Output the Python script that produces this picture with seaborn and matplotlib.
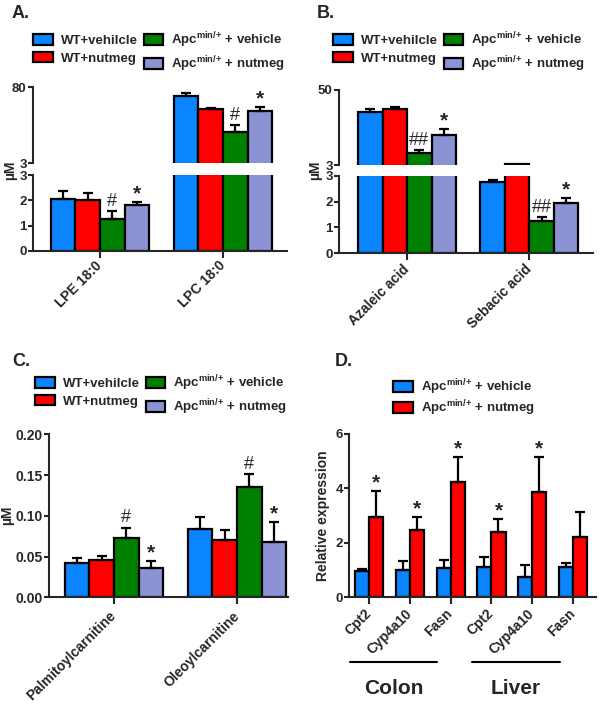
import pandas as pd
import seaborn as sns
import matplotlib.pyplot as plt
from matplotlib.patches import Patch
import matplotlib.transforms as mtransforms

sns.set_style('ticks')
plt.rcParams['font.family'] = ['Liberation Sans', 'DejaVu Sans']
plt.rcParams['font.weight'] = 'bold'
plt.rcParams['mathtext.fontset'] = 'custom'
plt.rcParams['mathtext.rm'] = 'Liberation Sans'
plt.rcParams['mathtext.bf'] = 'Liberation Sans:bold'

# ---- data ----
groups = ['WT+vehilcle', 'WT+nutmeg',
          r'Apc$^{\mathrm{min/{+}}}$ + vehicle', r'Apc$^{\mathrm{min/{+}}}$ + nutmeg']
colors = ['#0A84FF', '#FF0000', '#008000', '#8C93D4']

a_items = ['LPE 18:0', 'LPC 18:0']
a_means = [[2.04, 2.01, 1.26, 1.82], [70.9, 57.7, 34.4, 55.7]]
a_errs = [[0.33, 0.27, 0.32, 0.10], [3.4, 1.3, 7.1, 3.8]]
a_marks = [['', '', '#', '*'], ['', '', '#', '*']]

b_items = ['Azaleic acid', 'Sebacic acid']
b_means = [[36.0, 38.1, 10.7, 21.8], [2.75, 3.5, 1.25, 1.94]]
b_errs = [[1.9, 1.1, 1.5, 4.0], [0.09, 0.0, 0.14, 0.20]]
b_marks = [['', '', '##', '*'], ['', '', '##', '*']]

c_items = ['Palmitoylcarnitine', 'Oleoylcarnitine']
c_means = [[0.0425, 0.0458, 0.0732, 0.036], [0.0838, 0.0703, 0.1358, 0.0675]]
c_errs = [[0.0062, 0.0053, 0.0123, 0.0082], [0.0152, 0.0123, 0.0155, 0.0249]]
c_marks = [['', '', '#', '*'], ['', '', '#', '*']]

d_groups = [r'Apc$^{\mathrm{min/{+}}}$ + vehicle', r'Apc$^{\mathrm{min/{+}}}$ + nutmeg']
d_colors = ['#0A84FF', '#FF0000']
d_genes = ['Cpt2', 'Cyp4a10', 'Fasn', 'Cpt2', 'Cyp4a10', 'Fasn']
d_tissues = ['Colon', 'Colon', 'Colon', 'Liver', 'Liver', 'Liver']
d_vehicle = [0.98, 1.00, 1.09, 1.10, 0.76, 1.13]
d_vehicle_err = [0.07, 0.33, 0.28, 0.39, 0.43, 0.12]
d_nutmeg = [2.96, 2.47, 4.22, 2.41, 3.88, 2.20]
d_nutmeg_err = [0.94, 0.49, 0.95, 0.48, 1.29, 0.95]
d_marks = [['', '', '', '', '', ''], ['*', '*', '*', '*', '*', '']]


def make_df(items, groups, means, errs, marks):
    rows = []
    for i, item in enumerate(items):
        for j, g in enumerate(groups):
            rows.append({'item': item, 'group': g, 'mean': means[i][j],
                         'err': errs[i][j], 'mark': marks[i][j]})
    return pd.DataFrame(rows)


def draw_bars(ax, df, items, hue_order, palette, width, ylim):
    sns.barplot(data=df, x='item', y='mean', hue='group', order=items, hue_order=hue_order,
                palette=palette, width=width, edgecolor='black', linewidth=1.6,
                errorbar=None, legend=False, saturation=1, ax=ax)
    for cont, g in zip(ax.containers, hue_order):
        sub = df[df['group'] == g].set_index('item').loc[items]
        for bar, (_, row) in zip(cont, sub.iterrows()):
            top = row['mean'] + row['err']
            if bar.get_height() < ylim[0]:
                # bar lies entirely below this (upper) segment of a broken axis
                bar.set_visible(False)
                continue
            x = bar.get_x() + bar.get_width() / 2
            if row['err'] > 0:
                ax.errorbar(x, row['mean'], yerr=[[0], [row['err']]], fmt='none',
                            ecolor='black', elinewidth=1.6, capsize=3.5, capthick=1.6, zorder=1)
            if row['mark'] and ylim[0] <= top <= ylim[1]:
                if row['mark'] == '*':
                    ax.annotate('*', (x, top), xytext=(0, -1), textcoords='offset points',
                                ha='center', va='bottom', fontsize=15, fontweight='bold')
                else:
                    ax.annotate(row['mark'], (x, top), xytext=(0, 1), textcoords='offset points',
                                ha='center', va='bottom', fontsize=13, fontweight='normal')
    ax.set_ylim(*ylim)
    ax.set_xlabel('')
    ax.set_ylabel('')
    for s in ['top', 'right']:
        ax.spines[s].set_visible(False)
    for s in ['left', 'bottom']:
        ax.spines[s].set_linewidth(1.5)
    ax.tick_params(axis='y', length=3.5, width=1.5, labelsize=9.5, pad=1)
    ax.tick_params(axis='x', length=5, width=1.5, labelsize=10)


def style_xlabels(ax, labels, pad):
    ax.set_xticks(range(len(labels)))
    ax.set_xticklabels(labels, rotation=45, ha='right', va='center',
                       rotation_mode='anchor', fontweight='bold')
    ax.tick_params(axis='x', pad=pad)


def add_legend(ax, hue_order, palette, anchor, ncol, spacing=0.35):
    handles = [Patch(facecolor=c, edgecolor='black', linewidth=1.6) for c in palette]
    ax.legend(handles, hue_order, ncol=ncol, loc='upper left', bbox_to_anchor=anchor,
              bbox_transform=fig.transFigure, frameon=False, borderpad=0, borderaxespad=0,
              handlelength=1.5, handleheight=0.9, handletextpad=0.6, columnspacing=0.45,
              labelspacing=spacing, prop={'size': 9.5, 'weight': 'bold'})


W, H = 600, 704
fig = plt.figure(figsize=(6, 7.04), dpi=100)


def px_axes(x0, y0, x1, y1):
    return fig.add_axes([x0 / W, 1 - y1 / H, (x1 - x0) / W, (y1 - y0) / H])


def broken_panel(items, means, errs, marks, top_lim, top_ticks, box_top, box_bot, xlim, pad):
    df = make_df(items, groups, means, errs, marks)
    ax_t = px_axes(*box_top)
    ax_b = px_axes(*box_bot)
    draw_bars(ax_t, df, items, groups, colors, 0.8, top_lim)
    draw_bars(ax_b, df, items, groups, colors, 0.8, (0, 3))
    ax_t.spines['bottom'].set_visible(False)
    ax_t.set_xticks([])
    ax_t.set_yticks(top_ticks)
    ax_b.set_yticks([0, 1, 2, 3])
    for a in (ax_t, ax_b):
        a.set_xlim(*xlim)
    style_xlabels(ax_b, items, pad)
    return ax_t, ax_b


# ---- panel A ----
axA_t, axA_b = broken_panel(a_items, a_means, a_errs, a_marks, (3, 80), [3, 80],
                            (33, 87, 287, 163), (33, 175, 287, 251), (-0.545, 1.52), 4)
add_legend(axA_t, groups, colors, (33 / W, 1 - 30 / H), 2)
fig.text(12 / W, 1 - 14 / H, 'A.', fontsize=13, fontweight='bold', va='center')
fig.text(10 / W, 1 - 170 / H, 'µM', rotation=90, ha='center', va='center',
         fontsize=10, fontweight='bold')

# ---- panel B ----
axB_t, axB_b = broken_panel(b_items, b_means, b_errs, b_marks, (3, 50), [3, 50],
                            (339, 90, 593, 165), (339, 176, 593, 253), (-0.557, 1.52), 5)
add_legend(axB_t, groups, colors, (333 / W, 1 - 30 / H), 2)
fig.text(317 / W, 1 - 14 / H, 'B.', fontsize=13, fontweight='bold', va='center')
fig.text(315 / W, 1 - 170 / H, 'µM', rotation=90, ha='center', va='center',
         fontsize=10, fontweight='bold')

# ---- panel C ----
dfC = make_df(c_items, groups, c_means, c_errs, c_marks)
axC = px_axes(49.3, 434.3, 288, 597.3)
draw_bars(axC, dfC, c_items, groups, colors, 0.8, (0, 0.2))
axC.set_yticks([0, 0.05, 0.10, 0.15, 0.20])
axC.set_yticklabels(['0.00', '0.05', '0.10', '0.15', '0.20'])
axC.tick_params(axis='y', labelsize=10)
axC.set_xlim(-0.526, 1.415)
style_xlabels(axC, c_items, 7)
axC.set_ylabel('µM', fontsize=10, fontweight='bold')
axC.yaxis.set_label_coords(-0.148, 0.5)
add_legend(axC, groups, colors, (35 / W, 1 - 373 / H), 2)
fig.text(12 / W, 1 - 362 / H, 'C.', fontsize=13, fontweight='bold', va='center')

# ---- panel D ----
d_items = [t + ' ' + g for t, g in zip(d_tissues, d_genes)]
dfD = make_df(d_items, d_groups,
              [list(p) for p in zip(d_vehicle, d_nutmeg)],
              [list(p) for p in zip(d_vehicle_err, d_nutmeg_err)],
              [list(p) for p in zip(*d_marks)])
axD = px_axes(349.3, 434, 596, 597.3)
draw_bars(axD, dfD, d_items, d_groups, d_colors, 0.69, (0, 6))
axD.set_yticks([0, 2, 4, 6])
axD.set_xlim(-0.48, 5.56)
style_xlabels(axD, d_genes, 5)
axD.set_ylabel('Relative expression', fontsize=10, fontweight='bold', labelpad=4)
add_legend(axD, d_groups, d_colors, (393 / W, 1 - 377 / H), 1, spacing=0.15)
fig.text(335 / W, 1 - 362 / H, 'D.', fontsize=13, fontweight='bold', va='center')

# tissue brackets under the gene labels
trans = mtransforms.blended_transform_factory(axD.transData, axD.transAxes)
for tissue in ['Colon', 'Liver']:
    idx = [i for i, t in enumerate(d_tissues) if t == tissue]
    x0, x1 = idx[0] - 0.47, idx[-1] - 0.33
    axD.plot([x0, x1], [-0.397, -0.397], color='black', lw=1.5, transform=trans, clip_on=False)
    axD.text((x0 + x1) / 2, -0.56, tissue, transform=trans, ha='center', va='center',
             fontsize=15, fontweight='bold')

fig.savefig('out.png', dpi=100)
